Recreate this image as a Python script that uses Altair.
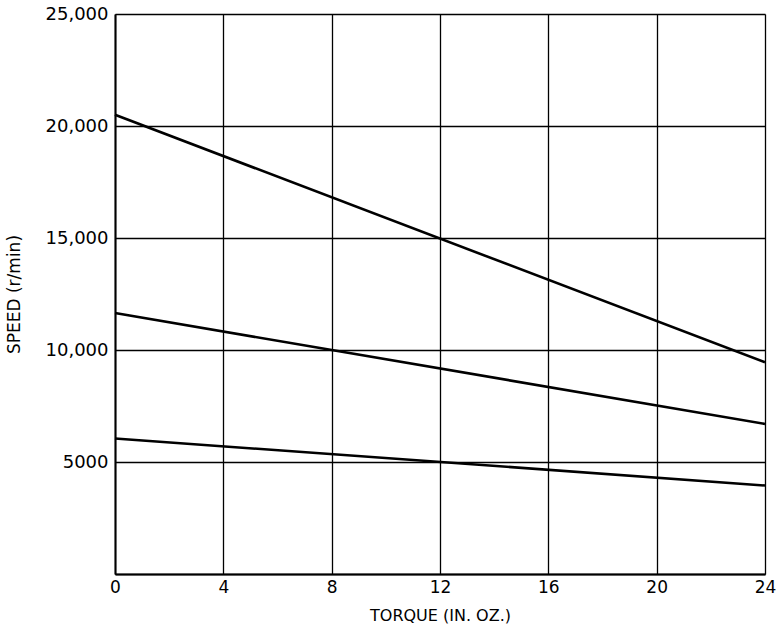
import altair as alt
import pandas as pd

torque = [0, 24]
series = ["A", "B", "C"]
speed_a = [20500, 9450]
speed_b = [11650, 6700]
speed_c = [6050, 3950]

rows = []
for name, vals in zip(series, [speed_a, speed_b, speed_c]):
    for t, v in zip(torque, vals):
        rows.append({"series": name, "torque": t, "speed": v})
df = pd.DataFrame(rows)

x_ticks = [0, 4, 8, 12, 16, 20, 24]
y_ticks = [0, 5000, 10000, 15000, 20000, 25000]

font = "DejaVu Sans"

chart = alt.Chart(df).mark_line(color="black", strokeWidth=2.6).encode(
    x=alt.X("torque:Q",
            scale=alt.Scale(domain=[0, 24], nice=False),
            axis=alt.Axis(values=x_ticks, title="TORQUE (IN. OZ.)", grid=True,
                          gridColor="black", gridWidth=1.3, gridOpacity=1,
                          domainColor="black", domainWidth=2, ticks=False,
                          labelPadding=5, labelFontSize=17, labelColor="black",
                          labelFont=font, titleFont=font, titleFontSize=16,
                          titleFontWeight="normal", titleColor="black",
                          titlePadding=12, labelFlush=False)),
    y=alt.Y("speed:Q",
            scale=alt.Scale(domain=[0, 25000], nice=False),
            axis=alt.Axis(values=y_ticks, title="SPEED (r/min)", grid=True,
                          gridColor="black", gridWidth=1.3, gridOpacity=1,
                          domainColor="black", domainWidth=2, ticks=False,
                          labelExpr="datum.value == 0 ? '' : (datum.value == 5000 ? '5000' : format(datum.value, ','))",
                          labelPadding=7, labelFontSize=18, labelColor="black",
                          labelFont=font, titleFont=font, titleFontSize=17,
                          titleFontWeight="normal", titleColor="black",
                          titlePadding=22)),
    detail="series:N",
).properties(
    width=650, height=560,
    autosize=alt.AutoSizeParams(type="none"),
    padding={"left": 115, "top": 14, "right": 13, "bottom": 55},
).configure_view(stroke="black", strokeWidth=1.5).configure(background="white")

chart.save("out.html", embed_options={"renderer": "svg", "actions": False})
